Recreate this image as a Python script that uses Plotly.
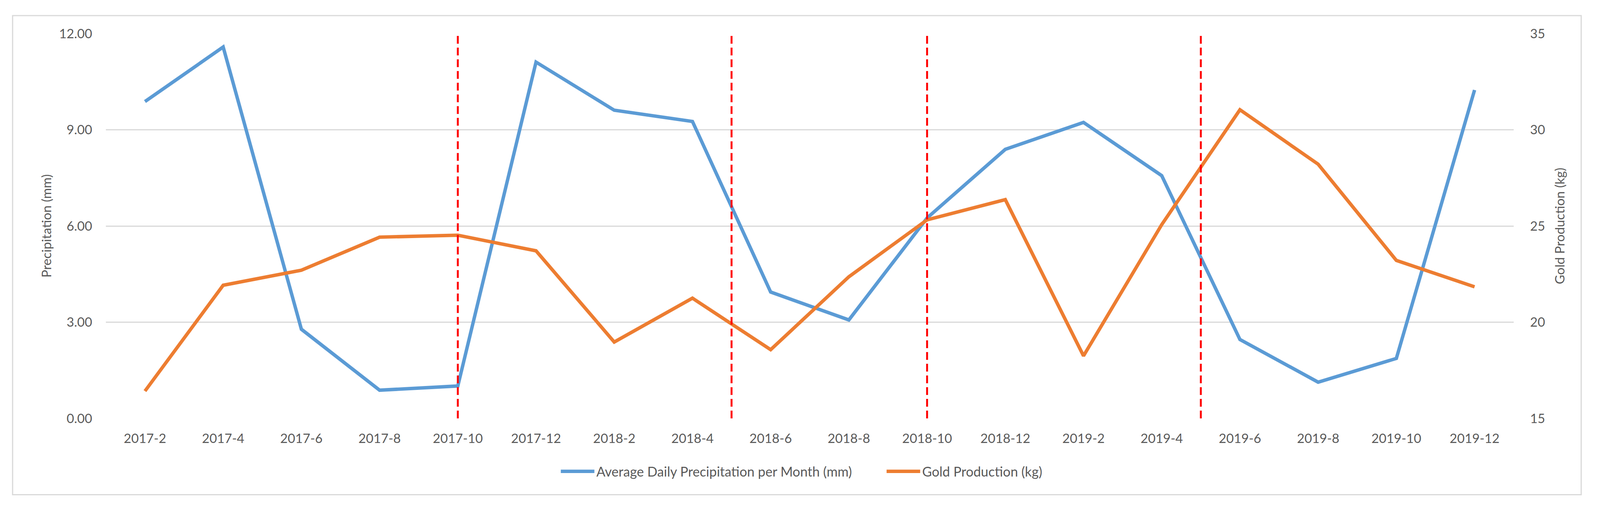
import plotly.graph_objects as go

categories = ["2017-2", "2017-4", "2017-6", "2017-8", "2017-10", "2017-12",
              "2018-2", "2018-4", "2018-6", "2018-8", "2018-10", "2018-12",
              "2019-2", "2019-4", "2019-6", "2019-8", "2019-10", "2019-12"]
precipitation = [9.88, 11.58, 2.78, 0.88, 1.01, 11.11,
                 9.61, 9.26, 3.94, 3.07, 6.25, 8.39,
                 9.23, 7.57, 2.46, 1.13, 1.87, 10.24]
gold = [16.42, 21.92, 22.70, 24.42, 24.52, 23.71,
        18.97, 21.25, 18.57, 22.36, 25.32, 26.37,
        18.25, 25.07, 31.04, 28.21, 23.21, 21.84]
# red dashed separators, in category-index units
split_positions = [4, 7.5, 10, 13.5]
left_ticks = [0, 3, 6, 9, 12]
right_ticks = [15, 20, 25, 30, 35]

# layout calibration: target picture pixels -> page pixels
Z = 1.024
OFF = 8


def px(v):
    return v / Z - OFF


def sz(v):
    return v / Z


def isz(v):
    return int(round(v / Z))


W, H = 4084, 1292
L = int(round(px(277)))
T = int(round(px(88)))
PR = int(round(px(3968)))
PB = int(round(px(1098)))
R = W - PR
B = H - PB
pw, ph = PR - L, PB - T

FONT = "Lato"
GREY = "#595959"
FS = sz(34)


def fx(v):  # picture x -> paper fraction
    return (px(v) - L) / pw


def fy(v):  # picture y -> paper fraction
    return (PB - px(v)) / ph


x_idx = list(range(len(categories)))

fig = go.Figure()
fig.add_trace(go.Scatter(x=x_idx, y=precipitation, mode="lines",
                         name="Average Daily Precipitation per Month (mm)",
                         line=dict(color="#5B9BD5", width=sz(9)), yaxis="y"))
fig.add_trace(go.Scatter(x=x_idx, y=gold, mode="lines",
                         name="Gold Production (kg)",
                         line=dict(color="#ED7D31", width=sz(9)), yaxis="y2"))

shapes = []
for p in split_positions:
    shapes.append(dict(type="line", xref="x", yref="y domain", x0=p, x1=p, y0=0, y1=1,
                       line=dict(color="#FF0000", width=sz(5), dash="20px,10px"), layer="above"))
# outer chart border
shapes.append(dict(type="rect", xref="paper", yref="paper",
                   x0=fx(33), x1=fx(4145), y0=fy(1298), y1=fy(41),
                   line=dict(color="#D9D9D9", width=3), fillcolor="rgba(0,0,0,0)", layer="below"))

fig.update_layout(
    width=W, height=H,
    margin=dict(l=L, r=R, t=T, b=B, pad=0),
    paper_bgcolor="white", plot_bgcolor="white",
    font=dict(family=FONT, size=FS, color=GREY),
    showlegend=True,
    legend=dict(orientation="h", x=fx(1465), xanchor="left",
                y=fy(1237), yanchor="middle",
                font=dict(family=FONT, size=sz(35), color=GREY),
                itemwidth=isz(88), entrywidth=isz(751), entrywidthmode="pixels",
                bgcolor="rgba(0,0,0,0)"),
    xaxis=dict(range=[-0.5, len(categories) - 0.5], tickmode="array", tickvals=x_idx,
               ticktext=categories, showgrid=False, zeroline=False, showline=False,
               ticks="", ticklabelstandoff=isz(30), tickfont=dict(size=FS, color=GREY)),
    yaxis=dict(range=[0, 12], tickvals=left_ticks, tickformat=".2f", showgrid=True,
               gridcolor="#D9D9D9", gridwidth=3, zeroline=False, showline=False, ticks="",
               ticklabelstandoff=isz(35), tickfont=dict(size=FS, color=GREY)),
    yaxis2=dict(range=[15, 35], tickvals=right_ticks, overlaying="y", side="right",
                showgrid=False, zeroline=False, showline=False, ticks="",
                ticklabelstandoff=isz(42), tickfont=dict(size=FS, color=GREY)),
    shapes=shapes,
    annotations=[
        dict(text="Precipitation (mm)", xref="paper", yref="paper",
             x=fx(121), y=0.5, xanchor="center", yanchor="middle",
             textangle=-90, showarrow=False,
             font=dict(family=FONT, size=FS, color=GREY)),
        dict(text="Gold Production (kg)", xref="paper", yref="paper",
             x=fx(4088), y=0.5, xanchor="center", yanchor="middle",
             textangle=-90, showarrow=False,
             font=dict(family=FONT, size=FS, color=GREY)),
    ],
)

fig.write_html("out.html")
